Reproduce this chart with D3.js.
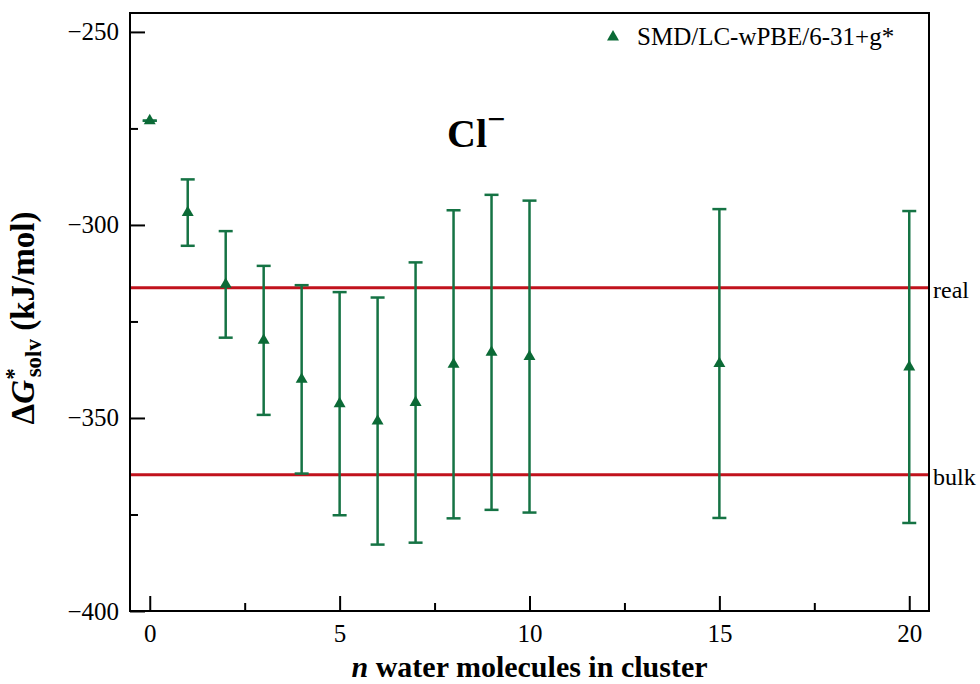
<!DOCTYPE html>
<html>
<head>
<meta charset="utf-8">
<script src="https://cdn.jsdelivr.net/npm/d3@7"></script>
<style>
  body { margin: 0; background: #fff; }
  svg text { font-family: "Liberation Serif", "Times New Roman", serif; }
</style>
</head>
<body>
<svg width="980" height="684"></svg>
<script>
// cluster sizes and SMD free energies (kJ/mol) with error half-widths
const nWater = [0, 1, 2, 3, 4, 5, 6, 7, 8, 9, 10, 15, 20];
const dGsolv = [-273.0, -296.8, -315.4, -329.9, -340.0, -346.3, -350.8, -346.0, -336.1, -333.0, -334.1, -335.9, -336.8];
const dGerr = [0, 8.6, 13.8, 19.3, 24.4, 28.9, 32.0, 36.3, 39.9, 40.8, 40.4, 40.0, 40.4];

// reference lines
const refNames = ["real", "bulk"];
const refValues = [-316.3, -364.7];

const xMajor = [0, 5, 10, 15, 20];
const xMinor = [2.5, 7.5, 12.5, 17.5];
const yMajor = [-250, -300, -350, -400];
const yMinor = [-275, -325, -375];

const seriesName = "SMD/LC-wPBE/6-31+g*";

const width = 980;
const height = 684;
const margin = { top: 13, right: 51, bottom: 73, left: 130 };

const green = "#157344";
const markGreen = "#0b6a36";
const red = "#c1121c";

const x = d3.scaleLinear()
    .domain([-0.52, 20.52])
    .range([margin.left, width - margin.right]);

const y = d3.scaleLinear()
    .domain([-400, -245.1])
    .range([height - margin.bottom, margin.top]);

const svg = d3.select("svg");

const points = nWater.map((n, i) => ({ n: n, v: dGsolv[i], e: dGerr[i] }));

// reference lines
svg.append("g")
    .selectAll("line")
    .data(refValues)
    .enter().append("line")
    .attr("x1", x.range()[0])
    .attr("x2", x.range()[1])
    .attr("y1", d => y(d))
    .attr("y2", d => y(d))
    .attr("stroke", red)
    .attr("stroke-width", 3);

svg.append("g")
    .selectAll("text")
    .data(refValues)
    .enter().append("text")
    .attr("x", x.range()[1] + 4)
    .attr("y", d => y(d) + 10)
    .attr("font-size", 24)
    .text((d, i) => refNames[i]);

// error bars
const bars = svg.append("g")
    .attr("stroke", green)
    .attr("stroke-width", 2.5);

bars.selectAll("line.v")
    .data(points)
    .enter().append("line")
    .attr("class", "v")
    .attr("x1", d => x(d.n))
    .attr("x2", d => x(d.n))
    .attr("y1", d => y(d.v + d.e))
    .attr("y2", d => y(d.v - d.e));

[1, -1].forEach(s => {
    bars.selectAll("line.cap" + (s > 0 ? "t" : "b"))
        .data(points)
        .enter().append("line")
        .attr("class", "cap" + (s > 0 ? "t" : "b"))
        .attr("x1", d => x(d.n) - 7)
        .attr("x2", d => x(d.n) + 7)
        .attr("y1", d => y(d.v + s * d.e))
        .attr("y2", d => y(d.v + s * d.e));
});

// markers
const tri = d3.symbol().type(d3.symbolTriangle).size(62);

svg.append("g")
    .selectAll("path")
    .data(points)
    .enter().append("path")
    .attr("d", tri)
    .attr("transform", d => `translate(${x(d.n)},${y(d.v)})`)
    .attr("fill", markGreen);

// axes with inward ticks
const xAxis = svg.append("g")
    .attr("transform", `translate(0,${y.range()[0]})`);
xAxis.call(d3.axisBottom(x).tickValues(xMajor).tickSizeInner(-15).tickSizeOuter(0));
xAxis.append("g").call(d3.axisBottom(x).tickValues(xMinor).tickSizeInner(-8).tickSizeOuter(0).tickFormat(""));
xAxis.selectAll(".tick text").attr("y", 13);

const yAxis = svg.append("g")
    .attr("transform", `translate(${x.range()[0]},0)`);
yAxis.call(d3.axisLeft(y).tickValues(yMajor).tickSizeInner(-15).tickSizeOuter(0));
yAxis.append("g").call(d3.axisLeft(y).tickValues(yMinor).tickSizeInner(-8).tickSizeOuter(0).tickFormat(""));
yAxis.selectAll(".tick text").attr("x", -11);

svg.selectAll(".domain").remove();
svg.selectAll(".tick line").attr("stroke", "#000").attr("stroke-width", 2);
svg.selectAll(".tick text")
    .attr("font-family", "Liberation Serif")
    .attr("font-size", 25)
    .attr("fill", "#000");

// frame
svg.append("rect")
    .attr("x", x.range()[0])
    .attr("y", y.range()[1])
    .attr("width", x.range()[1] - x.range()[0])
    .attr("height", y.range()[0] - y.range()[1])
    .attr("fill", "none")
    .attr("stroke", "#000")
    .attr("stroke-width", 2);

// legend
svg.append("path")
    .attr("d", tri)
    .attr("transform", "translate(613,37)")
    .attr("fill", markGreen);
svg.append("text")
    .attr("x", 637)
    .attr("y", 45)
    .attr("font-size", 25)
    .text(seriesName);

// title
const title = svg.append("text")
    .attr("x", 447)
    .attr("y", 147)
    .attr("font-size", 40)
    .attr("font-weight", "bold");
title.append("tspan").text("Cl");
title.append("tspan").attr("font-size", 32).attr("dy", -17).text("\u2212");

// x label
const xl = svg.append("text")
    .attr("x", (x.range()[0] + x.range()[1]) / 2)
    .attr("y", 677)
    .attr("text-anchor", "middle")
    .attr("font-size", 30)
    .attr("font-weight", "bold");
xl.append("tspan").attr("font-style", "italic").text("n");
xl.append("tspan").text(" water molecules in cluster");

// y label
const yl = svg.append("text")
    .attr("transform", "translate(34,318) rotate(-90)")
    .attr("text-anchor", "middle")
    .attr("font-size", 33)
    .attr("font-weight", "bold");
yl.append("tspan").text("\u0394");
yl.append("tspan").attr("font-style", "italic").text("G");
yl.append("tspan").attr("font-size", 23).attr("dy", -13).text("*");
yl.append("tspan").attr("font-size", 23).attr("dx", -9).attr("dy", 20).text("solv");
yl.append("tspan").attr("dy", -7).text(" (kJ/mol)");
</script>
</body>
</html>
